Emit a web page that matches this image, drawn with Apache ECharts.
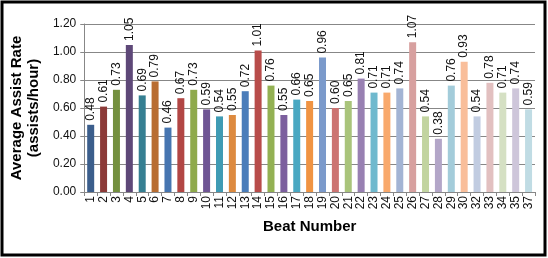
<!DOCTYPE html>
<html>
<head>
<meta charset="utf-8">
<script src="https://cdn.jsdelivr.net/npm/echarts@6/dist/echarts.min.js"></script>
<style>
  html, body { margin: 0; padding: 0; background: #fff; }
  #chart { width: 548px; height: 258px; }
</style>
</head>
<body>
<div id="chart"></div>
<script>
// beat numbers (31 and 36 are missing in the source)
const beats = ['1', '2', '3', '4', '5', '6', '7', '8', '9', '10', '11', '12', '13', '14', '15', '16', '17', '18',
    '19', '20', '21', '22', '23', '24', '25', '26', '27', '28', '29', '30', '32', '33', '34', '35', '37'];
// average assists per hour for each beat
const assistRate = [0.48, 0.61, 0.73, 1.05, 0.69, 0.79, 0.46, 0.67, 0.73, 0.59, 0.54, 0.55, 0.72, 1.01, 0.76, 0.55, 0.66, 0.65,
    0.96, 0.60, 0.65, 0.81, 0.71, 0.71, 0.74, 1.07, 0.54, 0.38, 0.76, 0.93, 0.54, 0.78, 0.71, 0.74, 0.59];
const yTicks = [0, 0.2, 0.4, 0.6, 0.8, 1.0, 1.2];

// excel-like "vary colors by point" palette
const barColors = [
    '#3b5e8c', '#8c3a38', '#74903f', '#5e4878', '#357f92', '#b86d32',
    '#4675b0', '#b24644', '#8faa4c', '#6f5594', '#3f9bb4', '#dd8a3f',
    '#4a7dba', '#b84c4a', '#93b153', '#7c5f9e', '#4aa8c2', '#f09443',
    '#7b9acb', '#cc7472', '#a9c47b', '#9880b2', '#6fb9ce', '#f9a96c',
    '#a3b4d4', '#d7a09f', '#c2d4a0', '#b3a6c8', '#a3ccda', '#f9be9a',
    '#c1cce1', '#e2c0c0', '#d5e0c3', '#cec6da', '#c0dce4'
];

const myChart = echarts.init(document.getElementById('chart'));

const font = 'Liberation Sans, Arial, sans-serif';
const gridColor = '#878787';

const options = {
    animation: false,
    textStyle: { fontFamily: font },
    graphic: [{
        type: 'rect',
        shape: { x: 2, y: 2, width: 543, height: 253 },
        style: { fill: 'none', stroke: '#000', lineWidth: 3 },
        silent: true
    }],
    grid: { left: 79, right: 13, top: 24, bottom: 66 },
    xAxis: {
        type: 'category',
        data: beats,
        name: 'Beat Number',
        nameLocation: 'middle',
        nameGap: 27,
        nameTextStyle: { fontSize: 15, fontWeight: 'bold', color: '#000', fontFamily: font },
        axisLine: { lineStyle: { color: gridColor, width: 1 } },
        axisTick: { show: true, length: 4, lineStyle: { color: gridColor } },
        axisLabel: { interval: 0, rotate: 90, fontSize: 12, color: '#111', margin: 4 }
    },
    yAxis: {
        type: 'value',
        min: yTicks[0],
        max: yTicks[yTicks.length - 1],
        interval: 0.2,
        name: 'Average Assist Rate\n(assists/hour)',
        nameLocation: 'middle',
        nameRotate: 90,
        nameGap: 36,
        nameTextStyle: { fontSize: 15, fontWeight: 'bold', color: '#000', lineHeight: 17, fontFamily: font },
        axisLine: { show: true, lineStyle: { color: gridColor, width: 1 } },
        axisTick: { show: true, length: 4, lineStyle: { color: gridColor } },
        axisLabel: { fontSize: 12, color: '#111', margin: 8, formatter: v => v.toFixed(2) },
        splitLine: { lineStyle: { color: gridColor, width: 1 } }
    },
    series: [{
        type: 'bar',
        barWidth: 7,
        data: assistRate.map((v, i) => ({ value: v, itemStyle: { color: barColors[i] } })),
        label: {
            show: true,
            position: 'top',
            rotate: 90,
            align: 'left',
            verticalAlign: 'middle',
            distance: 4,
            fontSize: 12,
            color: '#111',
            formatter: p => p.value.toFixed(2)
        }
    }]
};

myChart.setOption(options);
</script>
</body>
</html>
